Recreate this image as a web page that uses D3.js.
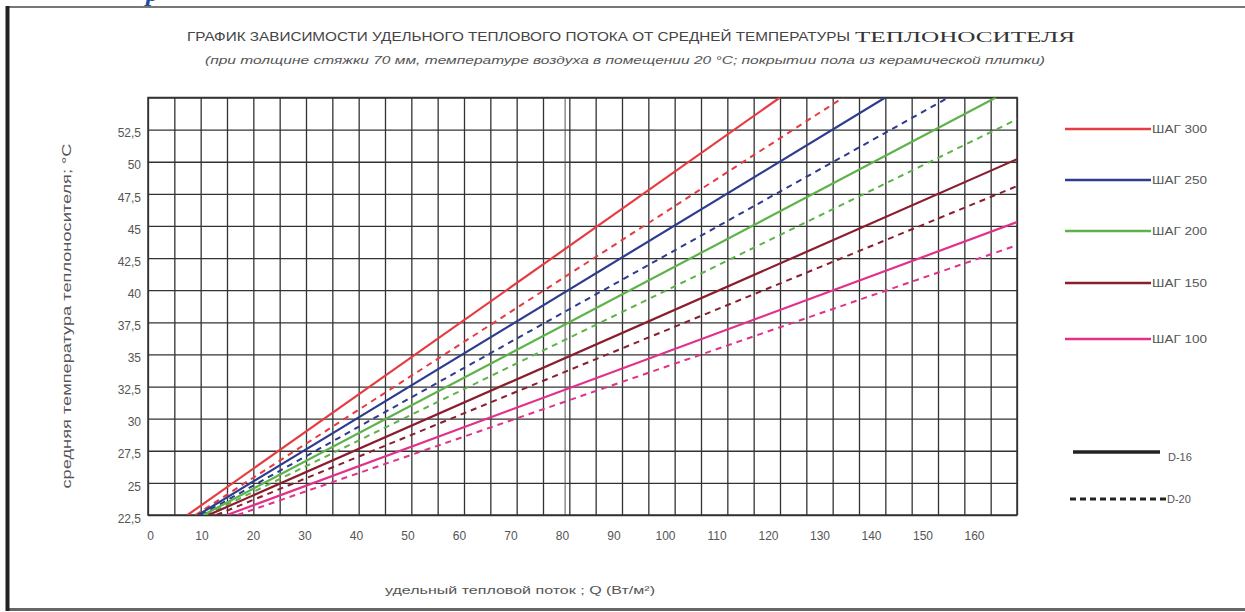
<!DOCTYPE html>
<html>
<head>
<meta charset="utf-8">
<script src="https://cdn.jsdelivr.net/npm/d3@7"></script>
<style>
  body { margin: 0; background: #fff; }
  text { font-family: "Liberation Sans", Arial, sans-serif; }
</style>
</head>
<body>
<div id="chart"></div>
<script>
// tick values
var xGrid = d3.range(0, 166, 5);
var xLabels = [0, 10, 20, 30, 40, 50, 60, 70, 80, 90, 100, 110, 120, 130, 140, 150, 160];
var yLabels = [22.5, 25, 27.5, 30, 32.5, 35, 37.5, 40, 42.5, 45, 47.5, 50, 52.5];
var yGrid = [22.5, 25, 27.5, 30, 32.5, 35, 37.5, 40, 42.5, 45, 47.5, 50, 52.5, 55];

// series: pipe step, colours
var steps = ["ШАГ 300", "ШАГ 250", "ШАГ 200", "ШАГ 150", "ШАГ 100"];
var colors = ["#e43c42", "#2c3c8f", "#5db34a", "#8a1e2e", "#e2318a"];

// end points of each line (Q in W/m2, T in C)
var d16Q = [[7.5, 120], [9.5, 140], [10.5, 161], [11.5, 165], [15, 165]];
var d16T = [[22.5, 55], [22.5, 55], [22.5, 55], [22.5, 50.2], [22.5, 45.3]];
var d20Q = [[9, 132], [10, 152], [11, 165], [13, 165], [17, 165]];
var d20T = [[22.5, 55], [22.5, 55], [22.5, 53.3], [22.5, 48.1], [22.5, 43.5]];

var width = 1245, height = 612;
var plotL = 148, plotR = 1017, plotT = 97.5, plotB = 515;

var svg = d3.select("#chart").append("svg")
    .attr("width", width)
    .attr("height", height);

// outer frame
svg.append("line").attr("x1", 6).attr("x2", 1245).attr("y1", 7).attr("y2", 7)
    .attr("stroke", "#777").attr("stroke-width", 2);
svg.append("line").attr("x1", 6).attr("x2", 1245).attr("y1", 609.5).attr("y2", 609.5)
    .attr("stroke", "#666").attr("stroke-width", 3);
svg.append("line").attr("x1", 7.5).attr("x2", 7.5).attr("y1", 6).attr("y2", 611)
    .attr("stroke", "#222").attr("stroke-width", 4);

// bit of the page text cut off above the frame
svg.append("text").attr("x", 146).attr("y", 1)
    .style("font-family", "'Liberation Serif', serif").style("font-style", "italic")
    .style("font-weight", "bold").attr("font-size", 26).attr("fill", "#1f4d9c")
    .text("р");

var x = d3.scaleLinear().domain([0, 165]).range([plotL, plotR]);
var y = d3.scaleLinear().domain([22.5, 55]).range([plotB, plotT]);
// the printed numbers under the axis sit a little tighter than the grid
var xText = d3.scaleLinear().domain([0, 160]).range([150, 974]);

// grid
svg.append("g").attr("class", "grid")
    .attr("transform", "translate(0," + plotB + ")")
    .call(d3.axisBottom(x).tickValues(xGrid).tickSize(-(plotB - plotT)).tickFormat(""))
    .call(function (g) { g.select(".domain").remove(); })
    .selectAll("line").attr("stroke", "#333").attr("stroke-width", 1.3);

svg.append("g").attr("class", "grid")
    .attr("transform", "translate(" + plotL + ",0)")
    .call(d3.axisLeft(y).tickValues(yGrid).tickSize(-(plotR - plotL)).tickFormat(""))
    .call(function (g) { g.select(".domain").remove(); })
    .selectAll("line").attr("stroke", "#333").attr("stroke-width", 1.3);

// double line at 80
svg.append("line").attr("x1", x(79.2)).attr("x2", x(79.2)).attr("y1", plotT).attr("y2", plotB)
    .attr("stroke", "#555").attr("stroke-width", 1);

svg.append("rect").attr("x", plotL).attr("y", plotT)
    .attr("width", plotR - plotL).attr("height", plotB - plotT)
    .attr("fill", "none").attr("stroke", "#333").attr("stroke-width", 1.5);

// axis labels
var xAxis = svg.append("g")
    .attr("transform", "translate(0," + plotB + ")")
    .call(d3.axisBottom(xText).tickValues(xLabels).tickSize(0).tickPadding(16));
xAxis.select(".domain").remove();
xAxis.selectAll("text").attr("font-size", 12).attr("fill", "#555")
    .style("font-family", "'Liberation Sans', sans-serif");

var yAxis = svg.append("g")
    .attr("transform", "translate(" + plotL + ",0)")
    .call(d3.axisLeft(y).tickValues(yLabels).tickSize(0).tickPadding(7)
        .tickFormat(function (d) { return String(d).replace(".", ","); }));
yAxis.select(".domain").remove();
yAxis.selectAll("text").attr("font-size", 12).attr("fill", "#555").attr("dy", "0.6em")
    .style("font-family", "'Liberation Sans', sans-serif");

// lines
svg.append("clipPath").attr("id", "plot")
    .append("rect").attr("x", plotL).attr("y", plotT)
    .attr("width", plotR - plotL).attr("height", plotB - plotT);

var line = d3.line()
    .x(function (d) { return x(d[0]); })
    .y(function (d) { return y(d[1]); });

var lines = svg.append("g").attr("clip-path", "url(#plot)");

steps.forEach(function (s, i) {
    var solid = d16Q[i].map(function (q, j) { return [q, d16T[i][j]]; });
    var dashed = d20Q[i].map(function (q, j) { return [q, d20T[i][j]]; });
    lines.append("path").attr("d", line(dashed))
        .attr("fill", "none").attr("stroke", colors[i]).attr("stroke-width", 2)
        .attr("stroke-dasharray", "6,5");
    lines.append("path").attr("d", line(solid))
        .attr("fill", "none").attr("stroke", colors[i]).attr("stroke-width", 2.2);
});

// legend
var legendY = [129, 180, 231, 283, 339];
steps.forEach(function (s, i) {
    svg.append("line").attr("x1", 1065).attr("x2", 1151)
        .attr("y1", legendY[i]).attr("y2", legendY[i])
        .attr("stroke", colors[i]).attr("stroke-width", 2.5);
    svg.append("text").attr("x", 1152).attr("y", legendY[i] + 4)
        .attr("font-size", 11).attr("fill", "#555")
        .attr("textLength", 55).attr("lengthAdjust", "spacingAndGlyphs")
        .text(s);
});

svg.append("line").attr("x1", 1073).attr("x2", 1160).attr("y1", 452).attr("y2", 452)
    .attr("stroke", "#222").attr("stroke-width", 3.5);
svg.append("text").attr("x", 1168).attr("y", 461).attr("font-size", 11).attr("fill", "#555").text("D-16");
svg.append("line").attr("x1", 1070).attr("x2", 1166).attr("y1", 499).attr("y2", 499)
    .attr("stroke", "#222").attr("stroke-width", 3).attr("stroke-dasharray", "6,4");
svg.append("text").attr("x", 1167).attr("y", 503).attr("font-size", 11).attr("fill", "#555").text("D-20");

// titles
svg.append("text").attr("x", 187).attr("y", 41)
    .attr("font-size", 12).attr("fill", "#444")
    .attr("textLength", 663).attr("lengthAdjust", "spacingAndGlyphs")
    .text("ГРАФИК ЗАВИСИМОСТИ УДЕЛЬНОГО ТЕПЛОВОГО ПОТОКА ОТ СРЕДНЕЙ ТЕМПЕРАТУРЫ");
svg.append("text").attr("x", 855).attr("y", 42)
    .style("font-family", "'Liberation Serif', serif")
    .attr("font-size", 15).attr("fill", "#333")
    .attr("textLength", 220).attr("lengthAdjust", "spacingAndGlyphs")
    .text("ТЕПЛОНОСИТЕЛЯ");
svg.append("text").attr("x", 205).attr("y", 64)
    .attr("font-size", 11).attr("fill", "#555").style("font-style", "italic")
    .attr("textLength", 840).attr("lengthAdjust", "spacingAndGlyphs")
    .text("(при толщине стяжки 70 мм, температуре воздуха в помещении 20 °С; покрытии пола из керамической плитки)");

svg.append("text")
    .attr("transform", "translate(71,316)rotate(-90)")
    .attr("text-anchor", "middle").attr("font-size", 12.5).attr("fill", "#555")
    .attr("textLength", 345).attr("lengthAdjust", "spacingAndGlyphs")
    .text("средняя температура теплоносителя; °С");

svg.append("text").attr("x", 385).attr("y", 594)
    .attr("font-size", 11.5).attr("fill", "#555")
    .attr("textLength", 270).attr("lengthAdjust", "spacingAndGlyphs")
    .text("удельный тепловой поток ; Q (Вт/м²)");
</script>
</body>
</html>
